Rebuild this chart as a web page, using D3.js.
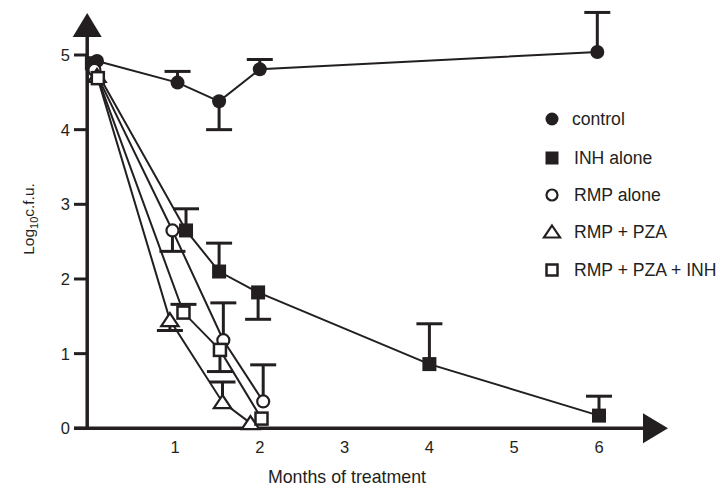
<!DOCTYPE html>
<html>
<head>
<meta charset="utf-8">
<script src="https://cdn.jsdelivr.net/npm/d3@7"></script>
<style>
  body { margin: 0; background: #fff; }
  text { font-family: "Liberation Sans", Arial, sans-serif; fill: #231f20; }
</style>
</head>
<body>
<div id="chart"></div>
<script>
// data (months, log10 cfu, error bar end)
const controlX = [0.08, 1.03, 1.52, 2.0, 5.98]
const controlY = [4.92, 4.63, 4.38, 4.81, 5.04]
const controlErr = [null, 4.78, 4.0, 4.94, 5.57]

const inhX = [0.02, 1.13, 1.52, 1.98, 4.0, 6.0]
const inhY = [4.89, 2.65, 2.1, 1.82, 0.86, 0.17]
const inhErr = [null, 2.94, 2.48, 1.46, 1.4, 0.43]

const rmpX = [0.05, 0.97, 1.57, 2.04]
const rmpY = [4.8, 2.65, 1.18, 0.36]
const rmpErr = [null, 2.37, 1.68, 0.85]

const rpX = [0.08, 0.94, 1.56, 1.89]
const rpY = [4.72, 1.45, 0.35, 0.07]
const rpErr = [null, 1.31, 0.62, null]

const rpiX = [0.09, 1.1, 1.53, 2.02]
const rpiY = [4.69, 1.55, 1.05, 0.13]
const rpiErr = [null, 1.66, 0.76, null]

const xTicks = [1, 2, 3, 4, 5, 6]
const yTicks = [0, 1, 2, 3, 4, 5]

const legendLabels = ["control", "INH alone", "RMP alone", "RMP + PZA", "RMP + PZA + INH"]

const width = 720
const height = 488
const ink = "#231f20"

const series = [
  { name: "control", symbol: "circle", filled: true, xs: controlX, ys: controlY, err: controlErr },
  { name: "INH alone", symbol: "square", filled: true, xs: inhX, ys: inhY, err: inhErr },
  { name: "RMP alone", symbol: "circle", filled: false, xs: rmpX, ys: rmpY, err: rmpErr },
  { name: "RMP + PZA", symbol: "triangle", filled: false, xs: rpX, ys: rpY, err: rpErr },
  { name: "RMP + PZA + INH", symbol: "square", filled: false, xs: rpiX, ys: rpiY, err: rpiErr },
]
series.forEach((s) => {
  s.points = s.xs.map((x, i) => ({ x: x, y: s.ys[i], e: s.err[i], s: s }))
})

const x = d3.scaleLinear().domain([0, 6]).range([90.2, 599])
const y = d3.scaleLinear().domain([0, 5]).range([428.3, 55])

const svg = d3
  .select("#chart")
  .append("svg")
  .attr("width", width)
  .attr("height", height)
  .attr("viewBox", [0, 0, width, height])

// axes
const axisX0 = x(0) - 3
svg
  .append("line")
  .attr("x1", axisX0)
  .attr("x2", axisX0)
  .attr("y1", 30)
  .attr("y2", y(0) + 1.5)
  .attr("stroke", ink)
  .attr("stroke-width", 3.5)
svg
  .append("path")
  .attr("d", `M${axisX0},13 L${axisX0 - 14.5},37 L${axisX0 + 14.5},37 Z`)
  .attr("fill", ink)

svg
  .append("line")
  .attr("x1", 74)
  .attr("x2", 650)
  .attr("y1", y(0))
  .attr("y2", y(0))
  .attr("stroke", ink)
  .attr("stroke-width", 3.5)
svg
  .append("path")
  .attr("d", `M668,${y(0)} L643,${y(0) - 15} L643,${y(0) + 15} Z`)
  .attr("fill", ink)

// y ticks
svg
  .selectAll(".ytick")
  .data(yTicks)
  .join("line")
  .attr("class", "ytick")
  .attr("x1", 74)
  .attr("x2", axisX0)
  .attr("y1", (d) => y(d))
  .attr("y2", (d) => y(d))
  .attr("stroke", ink)
  .attr("stroke-width", 3)

svg
  .selectAll(".ylabel")
  .data(yTicks)
  .join("text")
  .attr("class", "ylabel")
  .attr("x", 70)
  .attr("y", (d) => y(d))
  .attr("dy", "0.36em")
  .attr("text-anchor", "end")
  .style("font-size", "16.5px")
  .text((d) => d)

svg
  .selectAll(".xlabel")
  .data(xTicks)
  .join("text")
  .attr("class", "xlabel")
  .attr("x", (d) => x(d))
  .attr("y", 453)
  .attr("text-anchor", "middle")
  .style("font-size", "16.5px")
  .text((d) => d)

svg
  .append("text")
  .attr("x", 347)
  .attr("y", 483)
  .attr("text-anchor", "middle")
  .style("font-size", "17.8px")
  .text("Months of treatment")

const yTitle = svg
  .append("text")
  .attr("transform", "translate(34,219) rotate(-90)")
  .attr("text-anchor", "middle")
  .style("font-size", "15.5px")
yTitle.append("tspan").text("Log")
yTitle.append("tspan").attr("dy", 4).style("font-size", "11px").text("10")
yTitle.append("tspan").attr("dy", -4).text("c.f.u.")

// lines
const line = d3
  .line()
  .x((d) => x(d.x))
  .y((d) => y(d.y))

svg
  .selectAll(".series-line")
  .data(series)
  .join("path")
  .attr("class", "series-line")
  .attr("d", (d) => line(d.points))
  .attr("fill", "none")
  .attr("stroke", ink)
  .attr("stroke-width", 2)

// error bars
const errPoints = series.flatMap((s) => s.points).filter((p) => p.e !== null)
svg
  .selectAll(".err")
  .data(errPoints)
  .join("line")
  .attr("class", "err")
  .attr("x1", (d) => x(d.x))
  .attr("x2", (d) => x(d.x))
  .attr("y1", (d) => y(d.y))
  .attr("y2", (d) => y(d.e))
  .attr("stroke", ink)
  .attr("stroke-width", 3)
svg
  .selectAll(".cap")
  .data(errPoints)
  .join("line")
  .attr("class", "cap")
  .attr("x1", (d) => x(d.x) - 13)
  .attr("x2", (d) => x(d.x) + 13)
  .attr("y1", (d) => y(d.e))
  .attr("y2", (d) => y(d.e))
  .attr("stroke", ink)
  .attr("stroke-width", 3)

// markers
function drawMarker(sel, s, size) {
  if (s.symbol === "circle") {
    sel
      .append("circle")
      .attr("r", s.filled ? size / 2 : size / 2 - 1)
      .attr("fill", s.filled ? ink : "#fff")
      .attr("stroke", ink)
      .attr("stroke-width", s.filled ? 0 : 2.2)
  } else if (s.symbol === "square") {
    const h = s.filled ? size / 2 : size / 2 - 1
    sel
      .append("rect")
      .attr("x", -h)
      .attr("y", -h)
      .attr("width", h * 2)
      .attr("height", h * 2)
      .attr("fill", s.filled ? ink : "#fff")
      .attr("stroke", ink)
      .attr("stroke-width", s.filled ? 0 : 2.5)
  } else {
    const w = size * 0.62
    sel
      .append("path")
      .attr("d", `M0,${-size / 2} L${w},${size / 2 - 1} L${-w},${size / 2 - 1} Z`)
      .attr("fill", "#fff")
      .attr("stroke", ink)
      .attr("stroke-width", 2.2)
      .attr("stroke-linejoin", "miter")
  }
}

const allPoints = series.flatMap((s) => s.points)
svg
  .selectAll(".marker")
  .data(allPoints)
  .join("g")
  .attr("class", "marker")
  .attr("transform", (d) => `translate(${x(d.x)},${y(d.y)})`)
  .each(function (d) {
    drawMarker(d3.select(this), d.s, 14)
  })

// legend
const legendY = [119, 158, 195, 232, 270]
const legend = svg
  .selectAll(".legend")
  .data(series)
  .join("g")
  .attr("class", "legend")
  .attr("transform", (d, i) => `translate(552,${legendY[i]})`)
legend.each(function (d) {
  drawMarker(d3.select(this), d, 13)
})
legend
  .append("text")
  .attr("x", (d, i) => (i === 0 ? 20 : 22))
  .attr("dy", "0.36em")
  .style("font-size", "17.6px")
  .text((d, i) => legendLabels[i])
</script>
</body>
</html>
